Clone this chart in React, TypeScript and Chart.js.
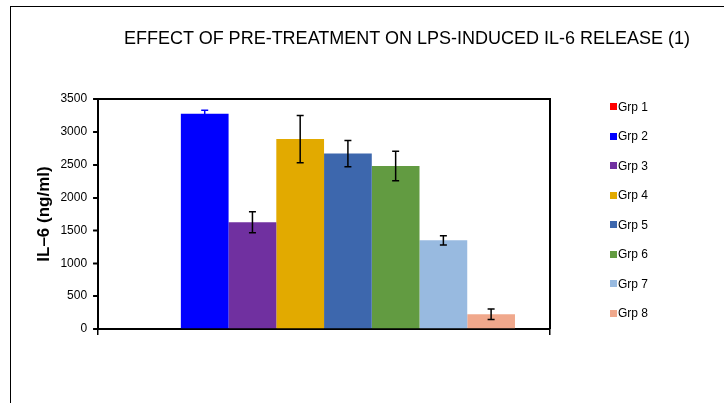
import React, { useEffect, useRef } from "react";
import { Chart, registerables } from "chart.js";

Chart.register(...registerables);

// ---- data ----
const chartTitle = "EFFECT OF PRE-TREATMENT ON LPS-INDUCED IL-6 RELEASE (1)";
const yAxisTitle = "IL–6 (ng/ml)";
const categories = [""];
const groups = ["Grp 1", "Grp 2", "Grp 3", "Grp 4", "Grp 5", "Grp 6", "Grp 7", "Grp 8"];
const means = [0, 3275, 1625, 2890, 2670, 2480, 1350, 225];
const errors = [0, 55, 160, 360, 200, 225, 70, 80];
const yMin = 0;
const yMax = 3500;
const yStep = 500;

// ---- styles ----
const barColors = ["#FF0000", "#0000FF", "#7030A0", "#E2AA00", "#3D67AD", "#629B41", "#98BAE0", "#F0A88C"];
const errorColors = ["#000000", "#0000FF", "#000000", "#000000", "#000000", "#000000", "#000000", "#000000"];
const FONT = "'Liberation Sans', Arial, sans-serif";

const errorBarPlugin = {
  id: "errorBars",
  afterDatasetsDraw(chart: any) {
    const { ctx } = chart;
    const yScale = chart.scales.y;
    chart.data.datasets.forEach((ds: any, i: number) => {
      const meta = chart.getDatasetMeta(i);
      meta.data.forEach((bar: any, j: number) => {
        const v = ds.data[j];
        const e = errors[i];
        if (!e) return;
        const x = bar.x;
        const yTop = yScale.getPixelForValue(v + e);
        const yBot = yScale.getPixelForValue(v - e);
        ctx.save();
        ctx.strokeStyle = errorColors[i];
        ctx.lineWidth = 1.5;
        ctx.beginPath();
        ctx.moveTo(x, yTop);
        ctx.lineTo(x, yBot);
        ctx.moveTo(x - 3.5, yTop);
        ctx.lineTo(x + 3.5, yTop);
        ctx.moveTo(x - 3.5, yBot);
        ctx.lineTo(x + 3.5, yBot);
        ctx.stroke();
        ctx.restore();
      });
    });
  },
};

const framePlugin = {
  id: "plotFrame",
  afterDraw(chart: any) {
    const { ctx, chartArea } = chart;
    const yScale = chart.scales.y;
    ctx.save();
    ctx.strokeStyle = "#000";
    ctx.lineWidth = 2;
    ctx.beginPath();
    ctx.moveTo(chartArea.left, chartArea.top);
    ctx.lineTo(chartArea.right, chartArea.top);
    ctx.lineTo(chartArea.right, chartArea.bottom);
    ctx.stroke();
    // y-axis outer tick marks
    ctx.lineWidth = 1.5;
    ctx.beginPath();
    yScale.ticks.forEach((t: any) => {
      const py = Math.round(yScale.getPixelForValue(t.value)) + 0.25;
      ctx.moveTo(chartArea.left - 5, py);
      ctx.lineTo(chartArea.left, py);
    });
    ctx.stroke();
    ctx.restore();
  },
};

export default function App() {
  const canvasRef = useRef<HTMLCanvasElement>(null);

  useEffect(() => {
    if (!canvasRef.current) return;
    const chart = new Chart(canvasRef.current, {
      type: "bar",
      data: {
        labels: categories,
        datasets: groups.map((g, i) => ({
          label: g,
          data: [means[i]],
          backgroundColor: barColors[i],
          borderWidth: 0,
          categoryPercentage: 0.845,
          barPercentage: 1,
        })),
      },
      options: {
        animation: false,
        responsive: false,
        maintainAspectRatio: false,
        layout: { padding: { left: 34, right: 174, top: 99, bottom: 68 } },
        plugins: {
          legend: { display: false },
          title: { display: false },
          tooltip: { enabled: false },
        },
        scales: {
          x: {
            type: "category",
            offset: true,
            grid: {
              display: true,
              drawOnChartArea: false,
              drawTicks: true,
              tickLength: 6,
              color: "#000",
              tickColor: "#000",
              lineWidth: 1.5,
              tickWidth: 1.5,
              offset: true,
            },
            border: { display: true, color: "#000", width: 2 },
            ticks: { display: false },
          },
          y: {
            min: yMin,
            max: yMax,
            ticks: {
              stepSize: yStep,
              color: "#000",
              padding: 6,
              font: { family: FONT, size: 12 },
              callback: (v: any) => String(v),
            },
            grid: {
              display: true,
              drawOnChartArea: false,
              drawTicks: true,
              tickLength: 5,
              color: "#000",
              tickColor: "#000",
              lineWidth: 1.5,
              tickWidth: 1.5,
            },
            border: { display: true, color: "#000", width: 2 },
            title: {
              display: true,
              text: yAxisTitle,
              color: "#000",
              padding: { top: 0, bottom: 0 },
              font: { family: FONT, size: 17, weight: "bold" },
            },
          },
        },
      },
      plugins: [errorBarPlugin, framePlugin],
    });
    return () => chart.destroy();
  }, []);

  return (
    <div style={{ position: "fixed", left: 0, top: 0, width: 724, height: 403, background: "#fff", overflow: "hidden" }}>
      <div
        style={{
          position: "absolute",
          left: 10,
          top: 6,
          right: -10,
          bottom: -10,
          borderLeft: "1.5px solid #000",
          borderTop: "1.5px solid #000",
        }}
      />
      <canvas ref={canvasRef} width={724} height={403} style={{ position: "absolute", left: 0, top: 0, width: 724, height: 403 }} />
      <div
        style={{
          position: "absolute",
          left: 0,
          width: 814,
          top: 29,
          textAlign: "center",
          fontFamily: FONT,
          fontSize: 18,
          lineHeight: "18px",
          color: "#000",
          whiteSpace: "nowrap",
        }}
      >
        {chartTitle}
      </div>
      <div style={{ position: "absolute", left: 610, top: 92, fontFamily: FONT, fontSize: 12, color: "#000" }}>
        {groups.map((g, i) => (
          <div key={g} style={{ display: "flex", alignItems: "center", height: 29.5, whiteSpace: "nowrap" }}>
            <span style={{ display: "inline-block", width: 7, height: 7, background: barColors[i], marginRight: 1 }} />
            <span>{g}</span>
          </div>
        ))}
      </div>
    </div>
  );
}
